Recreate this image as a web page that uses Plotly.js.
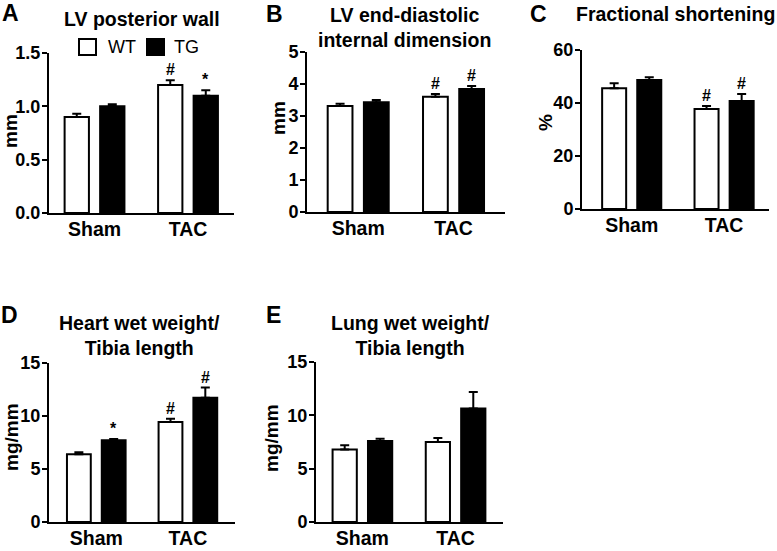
<!DOCTYPE html>
<html>
<head>
<meta charset="utf-8">
<script src="https://cdn.plot.ly/plotly-3.0.1.min.js"></script>
<style>html,body{margin:0;padding:0;background:#fff;}#chart{width:777px;height:551px;}</style>
</head>
<body>
<div id="chart"></div>
<script>
// ---- data ----
const categories = ["Sham", "TAC"];

const lvpwWT = [0.90, 1.20];
const lvpwWTerr = [0.03, 0.045];
const lvpwTG = [1.00, 1.10];
const lvpwTGerr = [0.02, 0.05];
const lvpwSigWT = ["", "#"];
const lvpwSigTG = ["", "*"];

const lveddWT = [3.31, 3.60];
const lveddWTerr = [0.07, 0.09];
const lveddTG = [3.43, 3.84];
const lveddTGerr = [0.07, 0.10];
const lveddSigWT = ["", "#"];
const lveddSigTG = ["", "#"];

const fsWT = [45.6, 37.7];
const fsWTerr = [1.9, 1.2];
const fsTG = [48.7, 40.8];
const fsTGerr = [1.0, 2.6];
const fsSigWT = ["", "#"];
const fsSigTG = ["", "#"];

const hwWT = [6.39, 9.43];
const hwWTerr = [0.20, 0.30];
const hwTG = [7.71, 11.73];
const hwTGerr = [0.12, 0.95];
const hwSigWT = ["", "#"];
const hwSigTG = ["*", "#"];

const lwWT = [6.79, 7.50];
const lwWTerr = [0.40, 0.37];
const lwTG = [7.60, 10.63];
const lwTGerr = [0.20, 1.56];
const lwSigWT = ["", ""];
const lwSigTG = ["", ""];

const groupNames = ["WT", "TG"];

// ---- layout helpers ----
const W = 777, H = 551;
const FONT = "Liberation Sans, Arial, sans-serif";
const BAR_W = 0.26, OFF_WT = -0.32, OFF_TG = 0.06;
const FILLS = ["#ffffff", "#000000"];

const panels = [
  {key:"A", wt:lvpwWT, wte:lvpwWTerr, tg:lvpwTG, tge:lvpwTGerr, swt:lvpwSigWT, stg:lvpwSigTG,
   x0:49, x1:234, xr:[-0.487,1.492], yTop:53, yBot:213, yr:[0,1.5], dtick:0.5, fmt:".1f",
   title:"LV posterior wall", tx:142, ty:19, letter:"A", lx:10, ly:13, ytitle:"mm", yx:10, yy:131},
  {key:"B", wt:lveddWT, wte:lveddWTerr, tg:lveddTG, tge:lveddTGerr, swt:lveddSigWT, stg:lveddSigTG,
   x0:307, x1:505, xr:[-0.537,1.54], yTop:52, yBot:212, yr:[0,5], dtick:1, fmt:"d",
   title:"LV end-diastolic<br>internal dimension", tx:405, ty:27, letter:"B", lx:274, ly:14, ytitle:"mm", yx:278, yy:118},
  {key:"C", wt:fsWT, wte:fsWTerr, tg:fsTG, tge:fsTGerr, swt:fsSigWT, stg:fsSigTG,
   x0:582, x1:769, xr:[-0.538,1.486], yTop:50, yBot:209, yr:[0,60], dtick:20, fmt:"d",
   title:"Fractional shortening", tx:675, ty:14, letter:"C", lx:538, ly:14, ytitle:"%", yx:546, yy:123},
  {key:"D", wt:hwWT, wte:hwWTerr, tg:hwTG, tge:hwTGerr, swt:hwSigWT, stg:hwSigTG,
   x0:49, x1:235, xr:[-0.516,1.514], yTop:363, yBot:522, yr:[0,15], dtick:5, fmt:"d",
   title:"Heart wet weight/<br>Tibia length", tx:139, ty:335, letter:"D", lx:9, ly:315, ytitle:"mg/mm", yx:11, yy:437},
  {key:"E", wt:lwWT, wte:lwWTerr, tg:lwTG, tge:lwTGerr, swt:lwSigWT, stg:lwSigTG,
   x0:316, x1:503, xr:[-0.498,1.509], yTop:362, yBot:522, yr:[0,15], dtick:5, fmt:"d",
   title:"Lung wet weight/<br>Tibia length", tx:410, ty:335, letter:"E", lx:273, ly:315, ytitle:"mg/mm", yx:271, yy:438}
];

const data = [];
const layout = {
  width: W, height: H,
  margin: {l:0, r:0, t:0, b:0},
  paper_bgcolor: "#fff", plot_bgcolor: "rgba(0,0,0,0)",
  barmode: "overlay",
  showlegend: false,
  font: {family: FONT, color: "#000"},
  annotations: [],
  shapes: []
};

function ups(arr){ return arr.map(()=>0); }

panels.forEach((p, i) => {
  const n = i === 0 ? "" : String(i+1);
  const xa = "x"+n, ya = "y"+n;
  const series = [
    {name: groupNames[0], y: p.wt, e: p.wte, off: OFF_WT, fill: FILLS[0], sig: p.swt},
    {name: groupNames[1], y: p.tg, e: p.tge, off: OFF_TG, fill: FILLS[1], sig: p.stg}
  ];
  series.forEach((s, k) => {
    data.push({
      type: "bar", x: categories, y: s.y, name: s.name,
      xaxis: xa, yaxis: ya, width: BAR_W, offset: s.off,
      marker: {color: s.fill, line: {color: "#000", width: 2}},
      error_y: {type:"data", symmetric:false, array: s.e, arrayminus: ups(s.e),
                color:"#000", thickness:2, width:4.5},
      hoverinfo: "skip"
    });
    s.sig.forEach((t, j) => {
      if (!t) return;
      layout.annotations.push({
        xref: xa, yref: ya, x: j + s.off + BAR_W/2, y: s.y[j] + s.e[j],
        text: t, showarrow: false, yanchor: "bottom", yshift: 0,
        font: {size: 16, family: FONT, color: "#000", weight: "bold"}
      });
    });
  });
  layout["xaxis"+n] = {
    domain: [p.x0/W, p.x1/W], anchor: ya, type: "category", range: p.xr,
    showline: true, linecolor: "#000", linewidth: 2, ticks: "", showgrid: false, zeroline: false,
    ticklabelstandoff: -2,
    tickfont: {size: 19.5, family: FONT, color: "#000", weight: "bold"}, fixedrange: true
  };
  layout["yaxis"+n] = {
    domain: [1 - p.yBot/H, 1 - p.yTop/H], anchor: xa, range: p.yr, dtick: p.dtick, tick0: 0,
    tickformat: p.fmt, showline: true, linecolor: "#000", linewidth: 2,
    ticks: "outside", ticklen: 5, tickwidth: 2, tickcolor: "#000", showgrid: false, zeroline: false,
    ticklabelstandoff: -2,
    tickfont: {size: 18, family: FONT, color: "#000", weight: "bold"}, fixedrange: true
  };
  layout.annotations.push({
    xref:"paper", yref:"paper", x: p.tx/W, y: 1 - p.ty/H, xanchor:"center", yanchor:"middle",
    text: p.title, showarrow:false, font:{size:19.5, family:FONT, color:"#000", weight:"bold"}
  });
  layout.annotations.push({
    xref:"paper", yref:"paper", x: p.lx/W, y: 1 - p.ly/H, xanchor:"center", yanchor:"middle",
    text: p.letter, showarrow:false, font:{size:23, family:FONT, color:"#000", weight:"bold"}
  });
  layout.annotations.push({
    xref:"paper", yref:"paper", x: p.yx/W, y: 1 - p.yy/H, xanchor:"center", yanchor:"middle",
    text: p.ytitle, textangle: -90, showarrow:false, font:{size:19, family:FONT, color:"#000", weight:"bold"}
  });
});

// legend (panel A): boxes + labels
const legendItems = [{x0:79, x1:96, tx:106}, {x0:147, x1:164, tx:172}];
legendItems.forEach((it, k) => {
  layout.shapes.push({type:"rect", xref:"paper", yref:"paper",
    x0: it.x0/W, x1: it.x1/W, y0: 1-55/H, y1: 1-39/H,
    fillcolor: FILLS[k], line:{color:"#000", width:2}});
  layout.annotations.push({xref:"paper", yref:"paper", x: it.tx/W, y: 1-47/H,
    xanchor:"left", yanchor:"middle", text: groupNames[k], showarrow:false,
    font:{size:18, family:FONT, color:"#000"}});
});

Plotly.newPlot("chart", data, layout, {displayModeBar:false, staticPlot:true});
</script>
</body>
</html>
